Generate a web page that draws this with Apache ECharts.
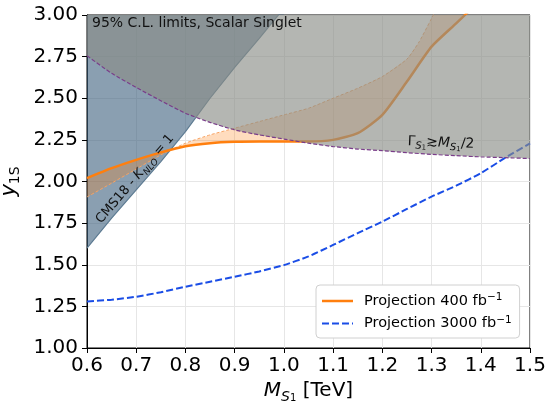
<!DOCTYPE html>
<html><head><meta charset="utf-8">
<script src="https://cdn.jsdelivr.net/npm/echarts@6/dist/echarts.min.js"></script>
<style>html,body{margin:0;padding:0;background:#fff}#c{width:549px;height:404px}</style>
</head><body><div id="c"></div>
<script>
// ---- data ----
const massCMS = [0.6, 0.65, 0.7, 0.75, 0.8, 0.85, 0.9, 0.95, 1.0];
const yCMS    = [1.60, 1.78, 1.95, 2.12, 2.30, 2.50, 2.685, 2.86, 3.04];

const massWidth = [0.6, 0.65, 0.7, 0.75, 0.8, 0.85, 0.9, 0.95, 1.0, 1.05, 1.1, 1.15, 1.2, 1.25, 1.3, 1.35, 1.4, 1.45, 1.5];
const yWidth    = [2.755, 2.65, 2.565, 2.485, 2.41, 2.355, 2.31, 2.28, 2.255, 2.23, 2.21, 2.195, 2.185, 2.173, 2.163, 2.155, 2.148, 2.143, 2.138];

const mass400 = [0.6, 0.65, 0.7, 0.75, 0.8, 0.85, 0.9, 0.95, 1.0, 1.05, 1.1, 1.15, 1.2, 1.25, 1.3, 1.35, 1.4];
const y400    = [2.02, 2.08, 2.13, 2.175, 2.212, 2.23, 2.238, 2.24, 2.24, 2.24, 2.25, 2.29, 2.40, 2.60, 2.81, 2.95, 3.09];

const massUpper = [0.6, 0.65, 0.7, 0.75, 0.8, 0.85, 0.9, 0.95, 1.0, 1.05, 1.1, 1.15, 1.2, 1.25, 1.275, 1.3, 1.32];
const yUpper    = [1.907, 1.99, 2.075, 2.16, 2.23, 2.28, 2.32, 2.36, 2.40, 2.44, 2.50, 2.56, 2.63, 2.735, 2.84, 2.98, 3.1];

const mass3000 = [0.6, 0.65, 0.7, 0.75, 0.8, 0.85, 0.9, 0.95, 1.0, 1.05, 1.1, 1.15, 1.2, 1.25, 1.3, 1.35, 1.4, 1.45, 1.5];
const y3000    = [1.28, 1.29, 1.308, 1.335, 1.368, 1.398, 1.428, 1.46, 1.498, 1.55, 1.619, 1.69, 1.759, 1.835, 1.909, 1.975, 2.05, 2.143, 2.229];

const name400 = 'Projection 400 fb\u207B\u00B9';
const name3000 = 'Projection 3000 fb\u207B\u00B9';
const titleText = '95% C.L. limits, Scalar Singlet';

// ---- chart ----
const FF = 'DejaVu Sans';
const pairs = (xs, ys) => xs.map((x, i) => [x, ys[i]]);
const chart = echarts.init(document.getElementById('c'), null, {renderer: 'canvas'});

const option = {
  animation: false,
  backgroundColor: '#fff',
  grid: {left: 87, right: 19, top: 15, bottom: 56, containLabel: false, outerBoundsMode: 'none',
         show: true, borderColor: '#000', borderWidth: 1, backgroundColor: 'transparent'},
  xAxis: {
    type: 'value', min: 0.6, max: 1.5, interval: 0.1,
    name: '{i|M}{s|S}{ss|1}{n| [TeV]}', nameLocation: 'middle', nameGap: 27,
    nameTextStyle: {fontFamily: FF, fontSize: 20, color: '#000', rich: {
      i: {fontFamily: FF, fontStyle: 'italic', fontSize: 20, lineHeight: 26, color: '#000'},
      s: {fontFamily: FF, fontStyle: 'italic', fontSize: 14, lineHeight: 14, verticalAlign: 'bottom', color: '#000'},
      ss: {fontFamily: FF, fontSize: 10, lineHeight: 8, verticalAlign: 'bottom', color: '#000'},
      n: {fontFamily: FF, fontSize: 20, lineHeight: 26, color: '#000'}
    }},
    axisLine: {show: true, lineStyle: {color: '#000', width: 1}},
    axisTick: {show: true, length: 5, lineStyle: {color: '#000'}},
    axisLabel: {fontFamily: FF, fontSize: 20, color: '#000', margin: 8, formatter: v => v.toFixed(1)},
    splitLine: {show: true, lineStyle: {color: '#e6e6e6', width: 1}}
  },
  yAxis: {
    type: 'value', min: 1, max: 3, interval: 0.25,
    name: '{i|y}{s|1S}', nameLocation: 'middle', nameGap: 59, nameRotate: 90,
    nameTextStyle: {fontFamily: FF, fontSize: 20, color: '#000', rich: {
      i: {fontFamily: FF, fontStyle: 'italic', fontSize: 21, lineHeight: 26, color: '#000'},
      s: {fontFamily: FF, fontSize: 14, lineHeight: 14, verticalAlign: 'bottom', color: '#000'}
    }},
    axisLine: {show: true, lineStyle: {color: '#000', width: 1}},
    axisTick: {show: true, length: 5, lineStyle: {color: '#000'}},
    axisLabel: {fontFamily: FF, fontSize: 20, color: '#000', margin: 9, formatter: v => v.toFixed(2)},
    splitLine: {show: true, lineStyle: {color: '#e6e6e6', width: 1}}
  },
  legend: {
    data: [
      {name: name400, icon: 'path://M0,0H31V2.5H0Z'},
      {name: name3000, icon: 'path://M0,0H7V2H0Z M10,0H17V2H10Z M20,0H27V2H20Z M30,0H31V2H30Z'}
    ],
    formatter: function (name) {
      const base = name.replace('\u207B\u00B9', '');
      return '{n|' + base + '}{sup|\u22121}';
    },
    orient: 'vertical', left: 316, top: 285,
    padding: [7, 8, 7, 6], itemWidth: 31, itemHeight: 2.5, itemGap: 6,
    backgroundColor: '#fff', borderColor: '#d0d0d0', borderWidth: 1, borderRadius: 4,
    textStyle: {fontFamily: FF, fontSize: 14.5, color: '#000', padding: [0, 0, 0, 6], rich: {
      n: {fontFamily: FF, fontSize: 14.5, lineHeight: 18, color: '#000'},
      sup: {fontFamily: FF, fontSize: 10.5, lineHeight: 10, verticalAlign: 'top', color: '#000'}
    }},
    selectedMode: false
  },
  series: [
    {
      name: 'CMS18', type: 'line', data: pairs(massCMS, yCMS), symbol: 'none', silent: true, z: 2,
      lineStyle: {color: '#5d7b92', width: 1.2},
      areaStyle: {color: 'rgba(60,95,125,0.6)', origin: 'end', opacity: 1}
    },
    {
      name: 'band', type: 'custom', silent: true, z: 3, clip: true,
      data: [[0.6, 2.0]],
      renderItem: function (params, api) {
        const pts = [];
        for (let i = 0; i < massUpper.length; i++) pts.push(api.coord([massUpper[i], yUpper[i]]));
        for (let i = mass400.length - 1; i >= 0; i--) pts.push(api.coord([mass400[i], y400[i]]));
        return {type: 'polygon', shape: {points: pts, smooth: 0}, style: {fill: 'rgba(255,127,14,0.27)', stroke: null}};
      }
    },
    {
      name: 'upper', type: 'line', data: pairs(massUpper, yUpper), symbol: 'none', silent: true, z: 4, smooth: 0.2,
      lineStyle: {color: '#f7a262', width: 1, type: [3, 2]}
    },
    {
      name: name400, type: 'line', data: pairs(mass400, y400), symbol: 'none', silent: true, z: 4, smooth: 0.2,
      lineStyle: {color: '#ff7f0e', width: 2.5}, itemStyle: {color: '#ff7f0e'}
    },
    {
      name: name3000, type: 'line', data: pairs(mass3000, y3000), symbol: 'none', silent: true, z: 4, smooth: 0.2,
      lineStyle: {color: '#1a4de6', width: 2, type: [7, 3]}, itemStyle: {color: '#1a4de6'}
    },
    {
      name: 'width', type: 'line', data: pairs(massWidth, yWidth), symbol: 'none', silent: true, z: 5, smooth: 0.2,
      lineStyle: {color: '#7a3d8a', width: 1.2, type: [4, 2]},
      areaStyle: {color: 'rgba(138,141,135,0.64)', origin: 'end', opacity: 1}
    }
  ],
  graphic: [
    {type: 'text', left: 92, top: 16, z: 100, style: {text: titleText, fontFamily: FF, fontSize: 14, fill: '#111'}},
    {type: 'text', x: 135, y: 179, rotation: 49.5 * Math.PI / 180, z: 100,
      style: {text: '{n|CMS18 - }{i|K}{s|NLO}{n| = 1}', align: 'center', verticalAlign: 'middle', fontFamily: FF, fontSize: 13, fill: '#111',
        rich: {
          n: {fontFamily: FF, fontSize: 13, lineHeight: 18, fill: '#111'},
          i: {fontFamily: FF, fontStyle: 'italic', fontSize: 13, lineHeight: 18, fill: '#111'},
          s: {fontFamily: FF, fontStyle: 'italic', fontSize: 9, lineHeight: 9, verticalAlign: 'bottom', fill: '#111'}
        }}},
    {type: 'text', x: 441, y: 143, rotation: -0.04, z: 100,
      style: {text: '{n|\u0393}{s|S}{ss|1}{n|\u2273}{i|M}{s|S}{ss|1}{n|/2}', align: 'center', verticalAlign: 'middle', fontFamily: FF, fontSize: 14, fill: '#111',
        rich: {
          n: {fontFamily: FF, fontSize: 14, lineHeight: 18, fill: '#111'},
          i: {fontFamily: FF, fontStyle: 'italic', fontSize: 14, lineHeight: 18, fill: '#111'},
          s: {fontFamily: FF, fontStyle: 'italic', fontSize: 10, lineHeight: 10, verticalAlign: 'bottom', fill: '#111'},
          ss: {fontFamily: FF, fontSize: 7, lineHeight: 6, verticalAlign: 'bottom', fill: '#111'}
        }}}
  ]
};
chart.setOption(option);
</script></body></html>
